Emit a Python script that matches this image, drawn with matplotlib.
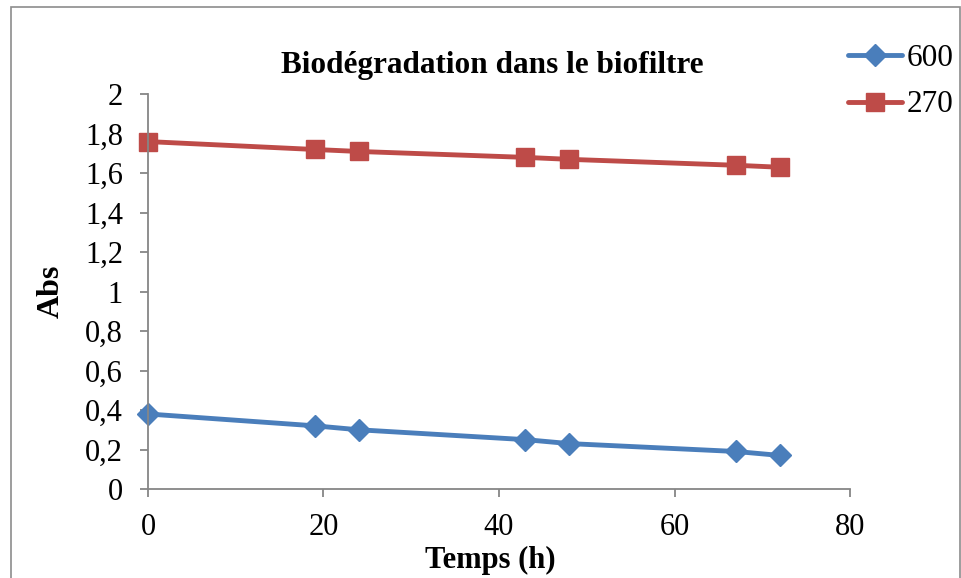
import matplotlib
matplotlib.use("Agg")
import matplotlib.pyplot as plt
from matplotlib.ticker import FuncFormatter, MultipleLocator
from matplotlib.patches import Rectangle

# data
temps = [0, 19, 24, 43, 48, 67, 72]
abs_600 = [0.38, 0.32, 0.30, 0.25, 0.23, 0.19, 0.17]
abs_270 = [1.76, 1.72, 1.71, 1.68, 1.67, 1.64, 1.63]

plt.rcParams['font.family'] = ['Liberation Serif', 'DejaVu Serif']

fig = plt.figure(figsize=(9.62, 5.78), dpi=100)
ax = fig.add_axes([0.1538, 0.154, 0.7298, 0.683])

# outer chart border
fig.patches.append(Rectangle((0.011, -0.01), 0.987, 0.998, transform=fig.transFigure,
                             fill=False, edgecolor='#8c8c8c', linewidth=1.2))

ax.plot(temps, abs_600, color='#4a7ebb', linewidth=3.5, marker='D', markersize=11,
        label='600', solid_capstyle='round')
ax.plot(temps, abs_270, color='#be4b48', linewidth=3.5, marker='s', markersize=13,
        label='270', solid_capstyle='round')

ax.set_xlim(0, 80)
ax.set_ylim(0, 2)
ax.xaxis.set_major_locator(MultipleLocator(20))
ax.yaxis.set_major_locator(MultipleLocator(0.2))
ax.yaxis.set_major_formatter(FuncFormatter(lambda v, p: ('%g' % round(v, 1)).replace('.', ',')))

for s in ['top', 'right']:
    ax.spines[s].set_visible(False)
for s in ['left', 'bottom']:
    ax.spines[s].set_color('#868686')
    ax.spines[s].set_linewidth(1.3)
ax.tick_params(colors='#868686', labelcolor='black', labelsize=22, length=6, width=1.3)
ax.tick_params(axis='y', pad=12)
ax.tick_params(axis='x', pad=11)
for ln in ax.lines:
    ln.set_clip_on(False)

ax.set_xlabel('Temps (h)', fontsize=22, fontweight='bold', va='center')
ax.xaxis.set_label_coords(0.487, -0.18)
ax.set_ylabel('Abs', fontsize=23, fontweight='bold', labelpad=14)
fig.text(0.512, 0.887, 'Biodégradation dans le biofiltre', ha='center', va='center',
         fontsize=22.5, fontweight='bold')

ax.legend(loc='upper left', bbox_to_anchor=(0.868, 0.945), bbox_transform=fig.transFigure,
          frameon=False, fontsize=22.5, handlelength=1.75, handletextpad=0.15,
          labelspacing=0.55, borderaxespad=0)

fig.savefig('out.png', dpi=100)
